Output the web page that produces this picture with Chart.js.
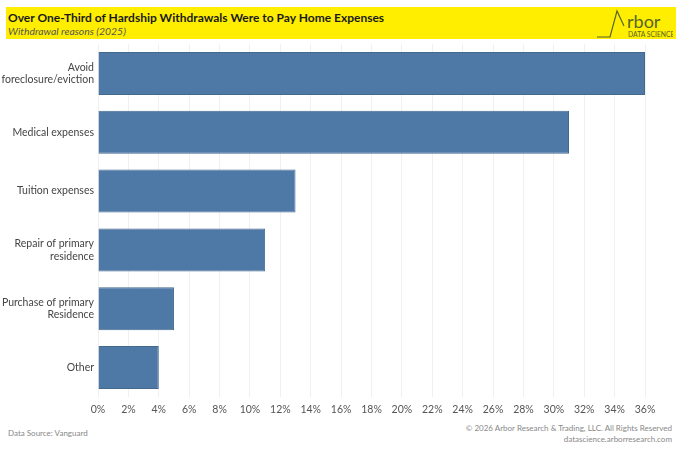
<!DOCTYPE html>
<html>
<head>
<meta charset="utf-8">
<script src="https://cdn.jsdelivr.net/npm/chart.js@4"></script>
<style>
  body{margin:0;background:#fff;font-family:Lato,sans-serif;}
  #wrap{position:relative;width:680px;height:453px;overflow:hidden;}
  #band{position:absolute;left:6px;top:7px;width:670px;height:32px;background:#ffee00;}
  #title{position:absolute;left:2px;top:3px;font-size:12px;font-weight:bold;color:#1a1a1a;}
  #sub{position:absolute;left:2px;top:18px;font-size:10.4px;font-style:italic;color:#555;}
  #logo{position:absolute;right:3px;top:0;width:80px;height:32px;}
  #box{position:absolute;left:0;top:44px;width:680px;height:377px;}
  .foot{position:absolute;font-size:8px;color:#888;}
</style>
</head>
<body>
<div id="wrap">
  <div id="band">
    <div id="title">Over One-Third of Hardship Withdrawals Were to Pay Home Expenses</div>
    <div id="sub">Withdrawal reasons (2025)</div>
    <svg id="logo" viewBox="0 0 80 32">
      <polyline points="4,30 17,30 24,4 31,19" fill="none" stroke="#56652a" stroke-width="1.2"/>
      <text x="34" y="21" font-family="Lato" font-size="18" fill="#56652a">rbor</text>
      <text x="35" y="30" font-family="Lato" font-size="6.8" fill="#56652a">DATA SCIENCE</text>
    </svg>
  </div>
  <div id="box"><canvas id="c"></canvas></div>
  <div class="foot" style="left:8px;top:428px;">Data Source: Vanguard</div>
  <div class="foot" style="right:8px;top:423px;text-align:right;line-height:10.5px;">© 2026 Arbor Research &amp; Trading, LLC. All Rights Reserved<br>datascience.arborresearch.com</div>
</div>
<script>
const reasons = [
  ["Avoid","foreclosure/eviction"],
  "Medical expenses",
  "Tuition expenses",
  ["Repair of primary","residence"],
  ["Purchase of primary","Residence"],
  "Other"
];
const shares = [36, 31, 13, 11, 5, 4];
const tickStep = 2;
const axisMax = 36;

new Chart(document.getElementById("c"), {
  type:"bar",
  data:{
    labels:reasons,
    datasets:[{
      data:shares,
      backgroundColor:"#4e79a7",
      borderColor:"#44698f",
      borderWidth:1,
      categoryPercentage:1,
      barPercentage:0.73
    }]
  },
  options:{
    indexAxis:"y",
    responsive:true, maintainAspectRatio:false,
    animation:false,
    layout:{padding:{left:0,right:35,top:0,bottom:0}},
    plugins:{legend:{display:false}, tooltip:{enabled:false}},
    scales:{
      x:{
        min:0, max:axisMax,
        border:{display:false},
        grid:{color:"#f0f0f0", drawTicks:false},
        ticks:{stepSize:tickStep, padding:6, color:"#555",
          font:{family:"Lato", size:10.5},
          callback:v=>v+"%"},
        afterFit:s=>{s.height=24; s.paddingLeft=0; s.paddingRight=0;}
      },
      y:{
        border:{display:false},
        grid:{display:false, drawTicks:false},
        ticks:{color:"#444", padding:4, font:{family:"Lato", size:10.5}},
        afterFit:s=>{s.width=98; s.paddingTop=0; s.paddingBottom=0;}
      }
    }
  }
});
</script>
</body>
</html>
